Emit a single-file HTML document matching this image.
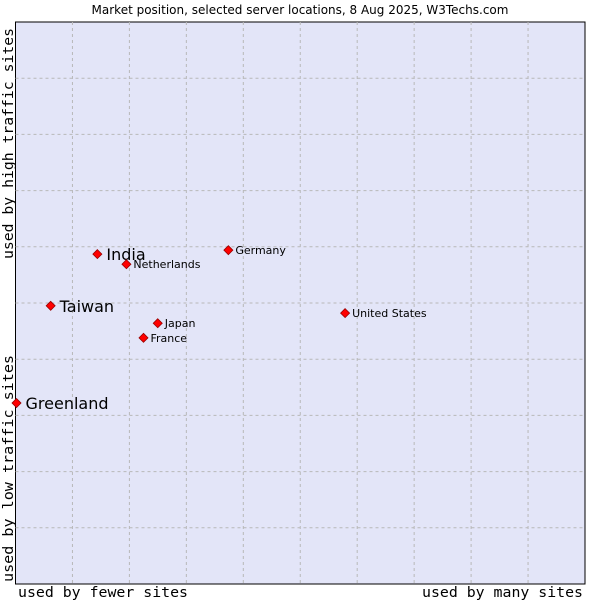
<!DOCTYPE html>
<html><head><meta charset="utf-8"><style>
body{margin:0;background:#fff}
svg text{font-family:"DejaVu Sans",sans-serif}
.mono{font-family:"DejaVu Sans Mono","Liberation Mono",monospace}
</style></head><body>
<svg width="600" height="600">
<rect x="0" y="0" width="600" height="600" fill="#fff"/>
<text x="300" y="14" font-size="12" text-anchor="middle">Market position, selected server locations, 8 Aug 2025, W3Techs.com</text>
<rect x="15.5" y="22" width="569.5" height="562" fill="#e3e5f8" stroke="#000" stroke-width="1"/>
<g id="grid"></g>
<g id="pts"></g>
<text class="mono" x="18" y="597" font-size="14" textLength="170" lengthAdjust="spacingAndGlyphs">used by fewer sites</text>
<text class="mono" x="422" y="597" font-size="14" textLength="161" lengthAdjust="spacingAndGlyphs">used by many sites</text>
<text class="mono" transform="translate(13,259) rotate(-90)" font-size="14" textLength="231" lengthAdjust="spacingAndGlyphs">used by high traffic sites</text>
<text class="mono" transform="translate(13,582) rotate(-90)" font-size="14" textLength="227" lengthAdjust="spacingAndGlyphs">used by low traffic sites</text>
</svg>
<script>
const names=["Greenland","Taiwan","India","Netherlands","Germany","Japan","France","United States"];
const xVals=[0,6.0,14.2,19.3,37.2,24.8,22.3,57.7];
const yVals=[32.2,49.5,58.7,56.9,59.4,46.4,43.8,48.2];
const bigLabel=[true,true,true,false,false,false,false,false];
const X0=16.5,X1=586,Y0=584,Y1=22;
const GX0=15.5,GX1=585;
const sx=v=>X0+(X1-X0)*v/100, sy=v=>Y0-(Y0-Y1)*v/100;
const gx=v=>GX0+(GX1-GX0)*v/100;
const NS="http://www.w3.org/2000/svg";
const g=document.getElementById('grid');
for(let i=1;i<10;i++){
 const vx=document.createElementNS(NS,'line');
 
 
 vx.setAttribute('x1',gx(i*10));vx.setAttribute('x2',gx(i*10));vx.setAttribute('y1',Y1);vx.setAttribute('y2',Y0);
 vx.setAttribute('stroke','#b8b8b8');vx.setAttribute('stroke-dasharray','3,3');g.appendChild(vx);
 const hy=document.createElementNS(NS,'line');
 
 
 hy.setAttribute('y1',sy(i*10));hy.setAttribute('y2',sy(i*10));hy.setAttribute('x1',GX0);hy.setAttribute('x2',GX1);
 hy.setAttribute('stroke','#b8b8b8');hy.setAttribute('stroke-dasharray','3,3');g.appendChild(hy);
}
const p=document.getElementById('pts');
names.forEach((n,i)=>{
 const x=sx(xVals[i]),y=sy(yVals[i]);
 const d=document.createElementNS(NS,'polygon');
 
 
 d.setAttribute('points',`${x},${y-4.5} ${x+4.5},${y} ${x},${y+4.5} ${x-4.5},${y}`);
 d.setAttribute('fill','#f00');d.setAttribute('stroke','#900');d.setAttribute('stroke-width','0.8');
 p.appendChild(d);
 const t=document.createElementNS(NS,'text');
 
 
 const big=bigLabel[i];
 t.setAttribute('x',x+(big?9:7));t.setAttribute('y',y+(big?6:4));
 t.setAttribute('font-size',big?16:11);t.textContent=n;p.appendChild(t);
});
</script>
</body></html>
